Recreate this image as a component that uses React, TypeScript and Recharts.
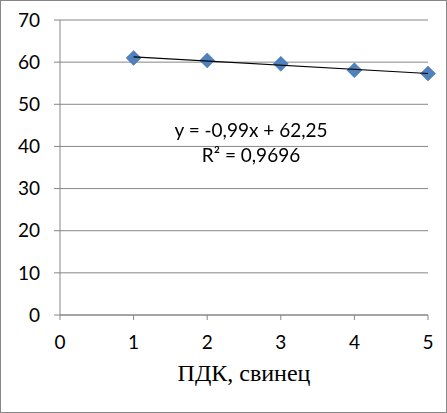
import React from 'react';
import {
    ScatterChart,
    Scatter,
    XAxis,
    YAxis,
    CartesianGrid,
} from 'recharts';

// ПДК levels and measured values
const pdkLevels = [1, 2, 3, 4, 5];
const values = [61.0, 60.4, 59.6, 58.1, 57.3];
// linear trend end points (y = -0,99x + 62,25)
const trendX = [1, 5];
const trendY = [61.26, 57.3];

const xTicks = [0, 1, 2, 3, 4, 5];
const yTicks = [0, 10, 20, 30, 40, 50, 60, 70];

const equationText = 'y = -0,99x + 62,25';
const r2Text = 'R² = 0,9696';
const axisTitle = 'ПДК, свинец';

const points = pdkLevels.map((x, i) => ({ x, y: values[i] }));
const trend = trendX.map((x, i) => ({ x, y: trendY[i] }));

const Diamond = (props: any) => {
    const { cx, cy } = props;
    const r = 7.5;
    return (
        <path
            d={`M${cx},${cy - r} L${cx + r},${cy} L${cx},${cy + r} L${cx - r},${cy} Z`}
            fill="#4F81BD"
            stroke="#3F6FA8"
            strokeWidth={0.5}
        />
    );
};

const tickStyle = { fontSize: 19, fill: '#000', fontFamily: 'Lato, sans-serif' };

export default function App() {
    return (
        <div
            style={{
                position: 'fixed',
                left: 0,
                top: 0,
                width: 447,
                height: 413,
                background: '#fff',
                border: '1px solid #868686',
                boxSizing: 'border-box',
            }}
        >
            <div style={{ position: 'absolute', left: -1, top: -1 }}>
                <ScatterChart
                    width={447}
                    height={413}
                    margin={{ top: 20, right: 19, left: 8, bottom: 23 }}
                >
                    <CartesianGrid vertical={false} stroke="#868686" />
                    <XAxis
                        type="number"
                        dataKey="x"
                        domain={[0, 5]}
                        ticks={xTicks}
                        interval={0}
                        height={75}
                        stroke="#868686"
                        tickSize={5}
                        tick={tickStyle}
                        tickMargin={16}
                        label={{
                            value: axisTitle,
                            position: 'insideBottom',
                            offset: 9,
                            style: { fontSize: 24, fill: '#000', fontFamily: '"Liberation Serif", serif' },
                        }}
                    />
                    <YAxis
                        type="number"
                        dataKey="y"
                        domain={[0, 70]}
                        ticks={yTicks}
                        interval={0}
                        width={52}
                        stroke="#868686"
                        tickSize={6}
                        tickMargin={2}
                        tick={{ ...tickStyle, dx: -12 }}
                    />
                    <Scatter data={points} shape={<Diamond />} isAnimationActive={false} />
                    <Scatter
                        data={trend}
                        line={{ stroke: '#000', strokeWidth: 1.2 }}
                        shape={() => null}
                        isAnimationActive={false}
                    />
                </ScatterChart>
            </div>
            <div
                style={{
                    position: 'absolute',
                    left: 0,
                    width: 500,
                    top: 116,
                    textAlign: 'center',
                    fontFamily: 'Lato, sans-serif',
                    fontSize: 19,
                    lineHeight: '25px',
                    color: '#000',
                }}
            >
                <div>{equationText}</div>
                <div>{r2Text}</div>
            </div>
        </div>
    );
}
